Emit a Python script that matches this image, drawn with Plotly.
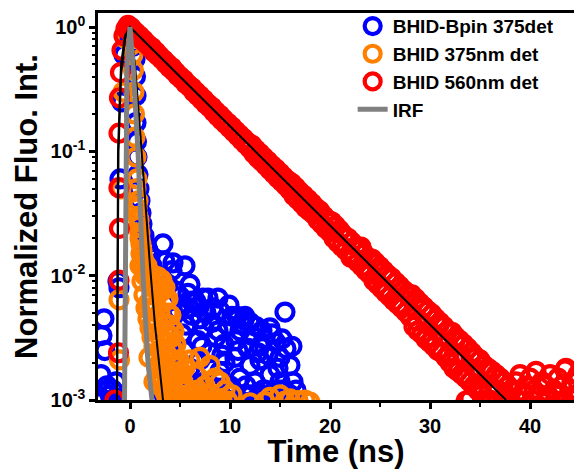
import plotly.graph_objects as go

# BHID 560nm det (red) - rising edge
red_rise_t = [-1.5, -1.15, -1.1, -1.05, -1.1, -1.1, -1.05, -0.95, -0.8, -0.6, -0.4, -0.2, 0.0]
red_rise_y = [0.001, 0.0024, 0.0092, 0.024, 0.051, 0.14, 0.27, 0.43, 0.65, 0.85, 0.97, 1.03, 1.0]

# BHID 560nm det (red) - decay, one value per 0.2 ns channel
red_t = [0.2, 0.4, 0.6, 0.8, 1.0, 1.2, 1.4, 1.6, 1.8, 2.0, 2.2, 2.4, 2.6, 2.8, 3.0, 3.2, 3.4, 3.6, 3.8, 4.0,
         4.2, 4.4, 4.6, 4.8, 5.0, 5.2, 5.4, 5.6, 5.8, 6.0, 6.2, 6.4, 6.6, 6.8, 7.0, 7.2, 7.4, 7.6, 7.8, 8.0,
         8.2, 8.4, 8.6, 8.8, 9.0, 9.2, 9.4, 9.6, 9.8, 10.0, 10.2, 10.4, 10.6, 10.8, 11.0, 11.2, 11.4, 11.6, 11.8, 12.0,
         12.2, 12.4, 12.6, 12.8, 13.0, 13.2, 13.4, 13.6, 13.8, 14.0, 14.2, 14.4, 14.6, 14.8, 15.0, 15.2, 15.4, 15.6, 15.8, 16.0,
         16.2, 16.4, 16.6, 16.8, 17.0, 17.2, 17.4, 17.6, 17.8, 18.0, 18.2, 18.4, 18.6, 18.8, 19.0, 19.2, 19.4, 19.6, 19.8, 20.0,
         20.2, 20.4, 20.6, 20.8, 21.0, 21.2, 21.4, 21.6, 21.8, 22.0, 22.2, 22.4, 22.6, 22.8, 23.0, 23.2, 23.4, 23.6, 23.8, 24.0,
         24.2, 24.4, 24.6, 24.8, 25.0, 25.2, 25.4, 25.6, 25.8, 26.0, 26.2, 26.4, 26.6, 26.8, 27.0, 27.2, 27.4, 27.6, 27.8, 28.0,
         28.2, 28.4, 28.6, 28.8, 29.0, 29.2, 29.4, 29.6, 29.8, 30.0, 30.2, 30.4, 30.6, 30.8, 31.0, 31.2, 31.4, 31.6, 31.8, 32.0,
         32.2, 32.4, 32.6, 32.8, 33.0, 33.2, 33.4, 33.6, 33.8, 34.0, 34.2, 34.4, 34.6, 34.8, 35.0, 35.2, 35.4, 35.6, 35.8, 36.0,
         36.2, 36.4, 36.6, 36.8, 37.0, 37.2, 37.4, 37.6, 37.8, 38.0,
         38.2, 38.4, 38.6, 38.8, 39.0, 39.2, 39.4, 39.6, 39.8, 40.0, 40.2, 40.4, 40.6, 40.8, 41.0, 41.2, 41.4, 41.6, 41.8, 42.0,
         42.2, 42.4, 42.6, 42.8, 43.0, 43.2, 43.4, 43.6, 43.8, 44.0, 44.2, 44.4, 44.6, 44.8, 45.0]
red_y = [0.97, 0.92, 0.90, 0.85, 0.84, 0.79, 0.78, 0.74, 0.72, 0.69, 0.68, 0.63, 0.63, 0.59, 0.58, 0.55, 0.54, 0.51, 0.50, 0.47,
         0.47, 0.44, 0.43, 0.405, 0.40, 0.38, 0.375, 0.35, 0.345, 0.33, 0.325, 0.30, 0.30, 0.28, 0.28, 0.26, 0.26, 0.24, 0.24, 0.225,
         0.226, 0.207, 0.208, 0.192, 0.195, 0.178, 0.180, 0.166, 0.168, 0.154, 0.157, 0.143, 0.145, 0.133, 0.135, 0.123, 0.126, 0.114, 0.117, 0.106,
         0.112, 0.096, 0.103, 0.089, 0.096, 0.083, 0.089, 0.077, 0.083, 0.071, 0.077, 0.066, 0.072, 0.061, 0.067, 0.057, 0.062, 0.053, 0.058, 0.049,
         0.055, 0.044, 0.051, 0.041, 0.047, 0.038, 0.044, 0.035, 0.041, 0.033, 0.038, 0.031, 0.035, 0.028, 0.033, 0.026, 0.030, 0.024, 0.028, 0.0225,
         0.027, 0.020, 0.025, 0.0185, 0.023, 0.0172, 0.021, 0.0160, 0.020, 0.0150, 0.0185, 0.0138, 0.0172, 0.0128, 0.0160, 0.0119, 0.0150, 0.0110, 0.0139, 0.0103,
         0.0136, 0.0091, 0.0126, 0.0085, 0.0118, 0.0079, 0.0109, 0.0073, 0.0101, 0.0068, 0.0095, 0.0063, 0.0088, 0.0059, 0.0082, 0.0055, 0.0076, 0.0051, 0.0071, 0.0047,
         0.0070, 0.0039, 0.0065, 0.0036, 0.0060, 0.0034, 0.0056, 0.0031, 0.0052, 0.0029, 0.0049, 0.0027, 0.0045, 0.0025, 0.0042, 0.0024, 0.0039, 0.0022, 0.0036, 0.0020,
         0.0035, 0.0018, 0.0032, 0.0017, 0.0030, 0.0016, 0.0028, 0.0015, 0.0026, 0.0014, 0.0024, 0.0013, 0.0022, 0.0012, 0.0021, 0.0011, 0.0019, 0.0010, 0.0018, 0.0010,
         0.0017, 0.0009, 0.0016, 0.0012, 0.0015, 0.0009, 0.0014, 0.0011, 0.0013, 0.0010,
         0.0012, 0.0009, 0.0014, 0.0010, 0.0016, 0.0008, 0.0011, 0.0013, 0.0009, 0.0015, 0.0010, 0.0012, 0.0017, 0.0009, 0.0011, 0.0014, 0.0008, 0.0013, 0.0010, 0.0016,
         0.0009, 0.0012, 0.0011, 0.0015, 0.0008, 0.0013, 0.0010, 0.0018, 0.0009, 0.0012, 0.0014, 0.0010, 0.0011, 0.0016, 0.0009]

# red outliers sticking out of the band
red_extra_t = [22.1, 23.1, 23.9, 24.5, 25.5, 26.1, 27.1, 27.7, 28.7, 29.3, 30.3, 30.9, 31.9, 32.5, 33.5, 34.1,
               35.1, 35.7, 33.6, 34.0, 43.5]
red_extra_y = [0.0140, 0.0170, 0.0105, 0.0128, 0.0078, 0.0096, 0.0058, 0.0072, 0.0043, 0.0054, 0.0032, 0.0040,
               0.0023, 0.0030, 0.0016, 0.0022, 0.0012, 0.0017, 0.00098, 0.00102, 0.00175]

# BHID-Bpin 375det (blue)
blue_pre_t = [-2.6, -2.8, -2.5, -2.9, -2.3, -2.0, -1.7, -2.6, -1.4, -1.2, -1.1, -1.0, -0.8, -0.6, -0.3]
blue_pre_y = [0.0045, 0.0033, 0.0025, 0.0016, 0.0013, 0.0011, 0.0012, 0.0010, 0.0014, 0.009, 0.008, 0.06,
              0.25, 0.6, 0.9]
blue_peak_t = [0.0, 0.3, 0.5, 0.55, 0.6, 0.6, 0.65, 0.7, 0.8, 0.9, 1.0, 1.1, 1.2, 1.4, 1.6, 1.8, 2.0, 2.2, 2.5, 2.8]
blue_peak_y = [1.0, 0.7, 0.55, 0.4, 0.28, 0.17, 0.12, 0.09, 0.065, 0.05, 0.04, 0.032, 0.026, 0.021, 0.018,
               0.016, 0.014, 0.012, 0.0105, 0.0095]
blue_cloud_t = [3.3, 4.3, 5.5, 6.0, 7.3, 8.8, 10.7, 11.5,
                3.2, 3.5, 3.8, 4.2, 4.6, 5.0, 5.4, 5.8, 6.2, 6.6, 7.0, 7.4, 7.8, 8.2, 8.6, 9.0, 9.4, 9.8, 10.2,
                10.6, 11.0, 11.4, 11.8, 12.2, 12.6, 13.0, 13.4, 13.8, 14.2, 14.6, 15.0, 15.5, 15.6, 16.0, 16.3,
                4.0, 4.5, 5.0, 5.5, 6.0, 6.5, 7.0, 7.5, 8.0, 8.5, 9.0, 9.5, 10.0, 10.5, 11.0, 11.5, 12.0, 12.5,
                13.0, 13.5, 14.0, 14.5, 15.0, 15.5, 16.0, 5.2, 6.8, 8.8, 10.8, 12.8, 14.8, 3.6, 4.4, 5.6, 7.2, 9.2,
                3.9, 4.8, 5.9, 6.9, 7.6, 8.3, 9.9, 11.2, 12.0, 13.2, 14.0, 15.2, 16.2]
blue_cloud_y = [0.018, 0.0127, 0.012, 0.0085, 0.0066, 0.0066, 0.0047, 0.0047,
                0.0095, 0.013, 0.0085, 0.011, 0.0075, 0.0068, 0.0058, 0.0072, 0.0048, 0.0062, 0.0045, 0.0038,
                0.0066, 0.0042, 0.0032, 0.0052, 0.0028, 0.0040, 0.0047, 0.0030, 0.0036, 0.0044, 0.0026, 0.0033,
                0.0039, 0.0027, 0.0031, 0.0023, 0.0034, 0.0029, 0.0022, 0.0051, 0.0026, 0.0019, 0.0014,
                0.0022, 0.0016, 0.0012, 0.0025, 0.0018, 0.0011, 0.0021, 0.0014, 0.0024, 0.0012, 0.0017, 0.0020,
                0.0013, 0.0022, 0.0015, 0.0011, 0.0019, 0.0014, 0.0021, 0.0012, 0.0016, 0.0011, 0.0014, 0.0012,
                0.0011, 0.0034, 0.0030, 0.0036, 0.0025, 0.0024, 0.0018, 0.0035, 0.0048, 0.0040, 0.0027, 0.0023,
                0.0062, 0.0052, 0.0055, 0.0056, 0.0050, 0.0055, 0.0058, 0.0041, 0.0042, 0.0036, 0.0038, 0.0031, 0.0027]
blue_floor_t = [-3.0, -2.2, -1.8, 3.4, 4.2, 4.8, 5.4, 6.1, 6.7, 7.3, 7.9, 8.4, 9.1, 9.7, 10.3, 10.9, 11.6,
                12.1, 12.7, 13.3, 13.9, 14.4, 15.1, 15.7, 16.2, 16.6]
blue_floor_y = [0.00105, 0.0012, 0.0010, 0.0011, 0.0013, 0.0010, 0.0012, 0.0010, 0.0013, 0.0011, 0.0010,
                0.0012, 0.0011, 0.0010, 0.0012, 0.0010, 0.0013, 0.0011, 0.0010, 0.0012, 0.0011, 0.0010,
                0.0012, 0.0011, 0.0010, 0.0012]

# BHID 375nm det (orange)
orange_t = [-1.1, -1.05, -0.9, -0.7, -0.4,
            0.2, 0.3, 0.35, 0.4, 0.45, 0.5, 0.6, 0.7, 0.8, 0.9, 1.0, 1.1, 1.3, 1.5,
            1.7, 2.0, 2.3, 2.6, 2.9, 3.2, 3.5, 3.8, 4.0, 4.2, 4.4, 4.6, 4.8, 5.0,
            1.8, 2.1, 2.5, 3.0, 3.4, 3.0, 2.7, 3.6, 3.9, 4.3, 4.7, 5.2,
            2.2, 2.6, 1.9, 2.4,
            5.5, 6.0, 6.5, 7.0, 7.5, 8.0, 8.5, 9.0, 9.5, 10.2, 5.8, 6.8, 7.8, 8.8,
            14.0, 15.0, 16.0, 17.5, 12.0, 15.5]
orange_y = [0.0064, 0.0021, 0.05, 0.3, 0.8,
            0.72, 0.6, 0.45, 0.3, 0.2, 0.13, 0.09, 0.06, 0.04, 0.028, 0.02, 0.015, 0.012, 0.010,
            0.012, 0.0095, 0.0085, 0.0082, 0.0080, 0.0075, 0.0062, 0.0050, 0.0040, 0.0032, 0.0025, 0.0020, 0.0016, 0.0013,
            0.006, 0.004, 0.003, 0.0025, 0.002, 0.0015, 0.0018, 0.0016, 0.0013, 0.0012, 0.0011, 0.0012,
            0.0055, 0.0045, 0.0022, 0.0014,
            0.0018, 0.0021, 0.0016, 0.0022, 0.0013, 0.0019, 0.0015, 0.0014, 0.0012, 0.0011, 0.0011, 0.0012, 0.0010, 0.0010,
            0.00105, 0.0011, 0.00102, 0.0010, 0.00095, 0.00098]
orange_col_t = [0.6, 0.7, 0.8, 0.9, 1.0, 1.1, 1.2, 1.3, 1.4, 1.5,
                1.0, 1.2, 1.4, 1.6, 1.8, 2.0, 2.2, 2.4, 2.6, 2.8,
                3.0, 3.2, 3.4, 3.6, 1.6, 2.0, 2.4, 2.8, 3.2, 3.5,
                3.8, 4.1, 4.4, 4.6, 4.9, 5.1, 5.3, 5.5, 2.2, 2.6,
                3.0, 3.4, 3.8, 4.2, 4.6, 5.0, 2.4, 3.0, 3.6, 4.2]
orange_col_y = [0.05, 0.035, 0.03, 0.025, 0.022, 0.018, 0.016, 0.014, 0.013, 0.012,
                0.012, 0.009, 0.007, 0.0055, 0.0045, 0.0038, 0.0032, 0.0027, 0.0023, 0.0019,
                0.0016, 0.0014, 0.0012, 0.0011, 0.011, 0.0105, 0.0100, 0.0098, 0.0092, 0.0080,
                0.0065, 0.0048, 0.0036, 0.0028, 0.0021, 0.0017, 0.0014, 0.0012, 0.007, 0.0058,
                0.0050, 0.0042, 0.0034, 0.0026, 0.0019, 0.0013, 0.0045, 0.0032, 0.0024, 0.0017]
orange_floor_t = [3.6, 4.0, 4.4, 4.8, 5.2, 5.6, 6.0, 6.4, 6.8, 7.2, 7.6, 8.0, 8.4, 9.2, 9.8, 13.5, 16.8, 18.0]
orange_floor_y = [0.0013, 0.0011, 0.0012, 0.0010, 0.0012, 0.0010, 0.0011, 0.0010, 0.0011, 0.0010, 0.0011,
                  0.0010, 0.0010, 0.0010, 0.00098, 0.00097, 0.00099, 0.00096]

# IRF (gray)
irf_t = [-0.55, -0.5, -0.45, -0.3, 0.0, 0.3, 0.8, 1.3, 1.8, 2.2]
irf_y = [0.001, 0.01, 0.1, 0.5, 1.0, 0.5, 0.1, 0.01, 0.002, 0.001]

# fits (black)
fit_slow_t = [-1.3, -1.25, -1.15, -0.9, -0.5, 0.0, 37.6]
fit_slow_y = [0.001, 0.01, 0.1, 0.4, 0.8, 1.0, 0.001]
fit_fast_t = [-1.3, -1.25, -1.2, -0.9, -0.5, 0.0, 0.5, 1.0, 1.5, 2.0, 2.5, 2.9, 3.1, 3.3]
fit_fast_y = [0.001, 0.01, 0.1, 0.5, 0.85, 1.0, 0.5, 0.15, 0.04, 0.012, 0.004, 0.002, 0.0013, 0.001]

font_b = dict(family="Liberation Sans, Arial", color="black", weight="bold")


def circles(x, y, color, name):
    return go.Scatter(x=x, y=y, mode="markers", name=name,
                      marker=dict(symbol="circle-open", size=17, color=color,
                                  line=dict(width=4.2, color=color)))


fig = go.Figure()
fig.add_trace(circles(blue_pre_t + blue_peak_t + blue_cloud_t + blue_floor_t,
                      blue_pre_y + blue_peak_y + blue_cloud_y + blue_floor_y,
                      "#0000ff", "BHID-Bpin 375det"))
fig.add_trace(circles(orange_t + orange_col_t + orange_floor_t, orange_y + orange_col_y + orange_floor_y,
                      "#ff8000", "BHID 375nm det"))
fig.add_trace(circles(red_rise_t + red_t + red_extra_t, red_rise_y + red_y + red_extra_y,
                      "#ff0000", "BHID 560nm det"))
fig.add_trace(go.Scatter(x=fit_fast_t, y=fit_fast_y, mode="lines", showlegend=False,
                         line=dict(color="black", width=2)))
fig.add_trace(go.Scatter(x=fit_slow_t, y=fit_slow_y, mode="lines", showlegend=False,
                         line=dict(color="black", width=2)))
fig.add_trace(go.Scatter(x=irf_t, y=irf_y, mode="lines", name="IRF",
                         line=dict(color="#808080", width=5)))

fig.update_layout(
    width=574, height=469,
    margin=dict(l=98, r=0, t=13, b=69),
    plot_bgcolor="white", paper_bgcolor="white",
    font=font_b,
    showlegend=True,
    legend=dict(x=0.535, y=1.015, xanchor="left", yanchor="top",
                bgcolor="rgba(0,0,0,0)", font=dict(size=19, **font_b),
                tracegroupgap=0, itemwidth=30),
    xaxis=dict(
        range=[-3.2, 44.4], showline=True, linecolor="black", linewidth=2.5, mirror=True,
        ticks="outside", ticklen=6, tickwidth=2.5, tickcolor="black",
        tickvals=[0, 10, 20, 30, 40], ticktext=["<b>0</b>", "<b>10</b>", "<b>20</b>", "<b>30</b>", "<b>40</b>"],
        tickfont=dict(size=20, **font_b),
        minor=dict(ticks="outside", ticklen=4, tickwidth=2, tickcolor="black", dtick=5, tick0=0),
        showgrid=False, zeroline=False, automargin=False,
        title=dict(text="<b>Time (ns)</b>", font=dict(size=31, **font_b), standoff=3),
    ),
    yaxis=dict(
        type="log", range=[-3, 0.113], showline=True, linecolor="black", linewidth=2.5, mirror=False,
        ticks="outside", ticklen=6, tickwidth=2.5, tickcolor="black",
        tickvals=[0.001, 0.01, 0.1, 1],
        ticktext=["<b>10<sup>-3</sup></b>", "<b>10<sup>-2</sup></b>", "<b>10<sup>-1</sup></b>", "<b>10<sup>0</sup></b>"],
        tickfont=dict(size=20, **font_b),
        minor=dict(ticks="outside", ticklen=3, tickwidth=1.5, tickcolor="black", dtick="D1"),
        showgrid=False, zeroline=False, automargin=False,
        title=dict(text="<b>Normalized Fluo. Int.</b>", font=dict(size=31, **font_b), standoff=4),
    ),
)

# page body has an 8px default margin; remove it so the figure sits at the window corner
fig.write_html("out.html", config={"displayModeBar": False},
               post_script="document.body.style.margin='0px';")
